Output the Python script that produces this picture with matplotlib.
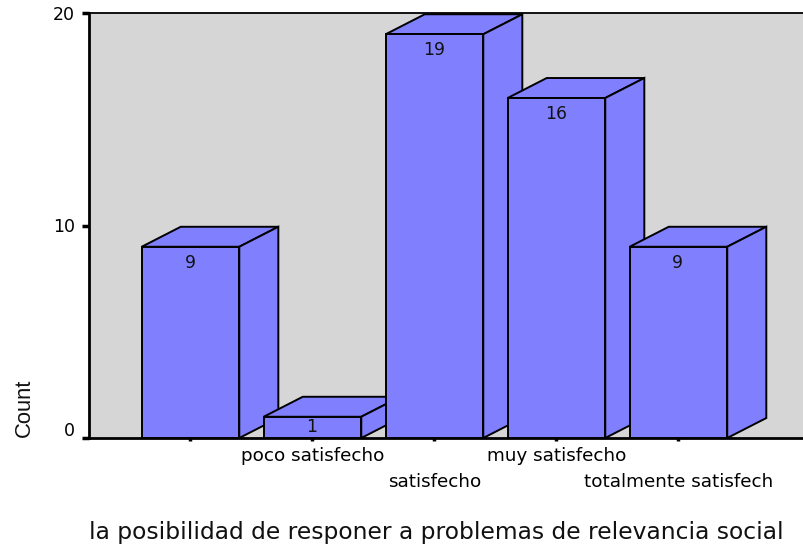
import matplotlib
matplotlib.use("Agg")
import matplotlib.pyplot as plt
from matplotlib.patches import Polygon, Rectangle
from matplotlib.transforms import ScaledTranslation

categories = ["", "poco satisfecho", "satisfecho", "muy satisfecho", "totalmente satisfech"]
counts = [9, 1, 19, 16, 9]
y_ticks = [0, 10, 20]
x_label = "la posibilidad de responer a problemas de relevancia social"
y_label = "Count"

W, H = 804, 545
plt.rcParams["font.family"] = ["DejaVu Sans"]
fig = plt.figure(figsize=(W / 100, H / 100), dpi=100)
ax = fig.add_axes([89 / W, (H - 438) / H, (W - 89) / W, (438 - 13) / H])
ax.set_facecolor("#d6d6d6")
ax.set_xlim(-0.832, 5.029)
ax.set_ylim(0, 20)

bar_w = 0.8
dx, dy = 0.32, 0.94
face = "#8080ff"
lw = 1.4
for i, v in enumerate(counts):
    l, r = i - bar_w / 2, i + bar_w / 2
    ax.add_patch(Polygon([(l, v), (l + dx, v + dy), (r + dx, v + dy), (r, v)], fc=face, ec="black", lw=lw, zorder=2 + i))
    ax.add_patch(Polygon([(r, 0), (r + dx, dy), (r + dx, v + dy), (r, v)], fc=face, ec="black", lw=lw, zorder=2 + i))
    ax.add_patch(Rectangle((l, 0), bar_w, v, fc=face, ec="black", lw=lw, zorder=2 + i))
    ax.text(i - 0.005, max(v - 0.75, 0.52), str(v), ha="center", va="center", fontsize=12.3, color="#111111", zorder=20)

for s in ax.spines.values():
    s.set_color("black")
ax.spines["right"].set_visible(False)
ax.spines["left"].set_linewidth(2)
ax.spines["bottom"].set_linewidth(2)
ax.spines["top"].set_linewidth(1.3)

ax.set_yticks(y_ticks)
ax.set_xticks(range(len(categories)))
ax.set_xticklabels(categories)
ax.tick_params(axis="y", length=5, width=2.5, pad=5, labelsize=12.5)
ax.tick_params(axis="x", length=2.5, width=2.5, pad=4, labelsize=13.2)
for j, t in enumerate(ax.xaxis.get_major_ticks()):
    if j in (2, 4):
        t.set_pad(22.5)
for lab, val in zip(ax.get_yticklabels(), y_ticks):
    if val == 0:
        lab.set_transform(lab.get_transform() + ScaledTranslation(0, 9 / 100, fig.dpi_scale_trans))

fig.text(436 / W, 1 - 532 / H, x_label, ha="center", va="center", fontsize=16.8, color="#111111")
fig.text(24 / W, 1 - 408 / H, y_label, ha="center", va="center", rotation=90, fontsize=15.8,
         family="Liberation Sans", color="#111111")
fig.savefig("out.png", dpi=100)
